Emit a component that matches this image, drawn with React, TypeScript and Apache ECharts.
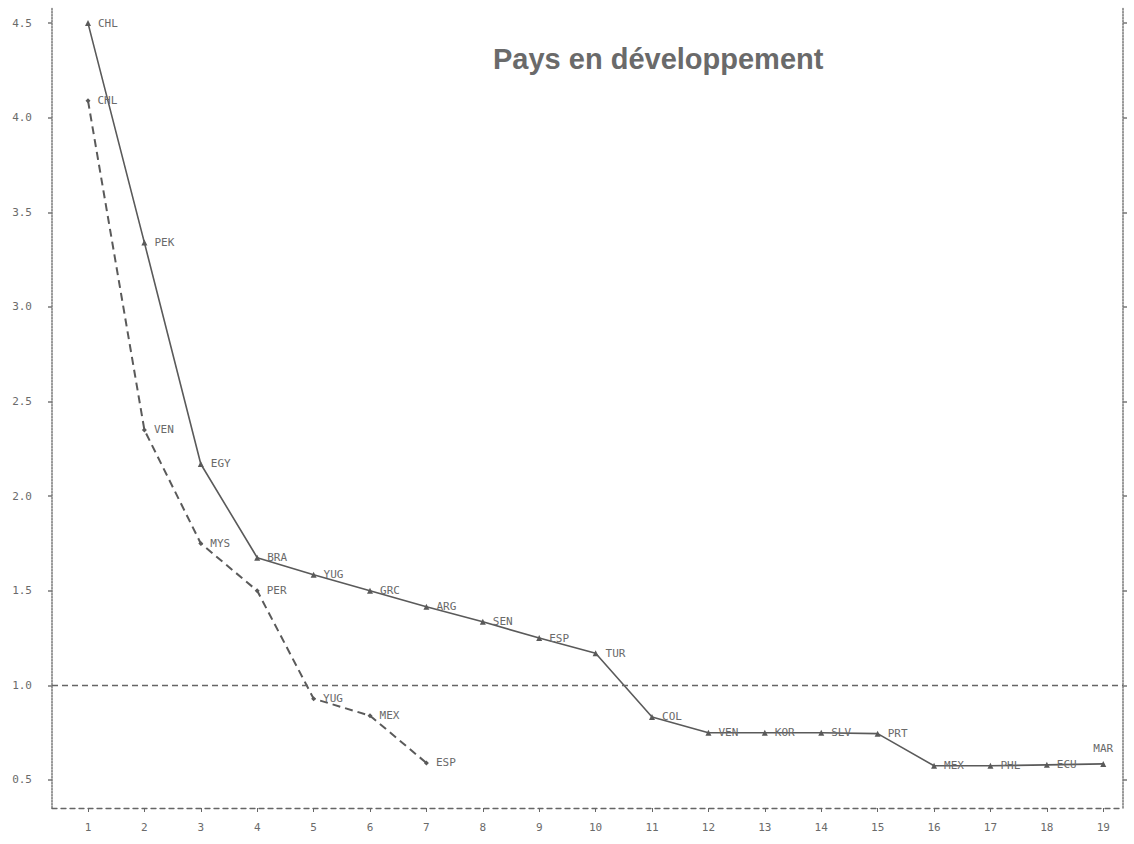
import React, { useEffect, useRef } from "react";
import * as echarts from "echarts";

const xTicks = [1, 2, 3, 4, 5, 6, 7, 8, 9, 10, 11, 12, 13, 14, 15, 16, 17, 18, 19];
const yTicks = [0.5, 1.0, 1.5, 2.0, 2.5, 3.0, 3.5, 4.0, 4.5];

const mainCountries = ["CHL", "PEK", "EGY", "BRA", "YUG", "GRC", "ARG", "SEN", "ESP", "TUR", "COL", "VEN", "KOR", "SLV", "PRT", "MEX", "PHL", "ECU", "MAR"];
const mainValues = [4.5, 3.34, 2.17, 1.675, 1.585, 1.5, 1.415, 1.336, 1.25, 1.17, 0.833, 0.75, 0.75, 0.75, 0.745, 0.575, 0.575, 0.58, 0.585];

const dashCountries = ["CHL", "VEN", "MYS", "PER", "YUG", "MEX", "ESP"];
const dashValues = [4.09, 2.35, 1.75, 1.5, 0.93, 0.84, 0.59];

const refLevel = 1.0;
const title = "Pays en développement";

const ink = "#5a5a5a";
const textInk = "#6a6a6a";
const mono = "DejaVu Sans Mono";

export default function App() {
  const ref = useRef<HTMLDivElement>(null);
  useEffect(() => {
    if (!ref.current) return;
    const chart = echarts.init(ref.current, null, { renderer: "svg" });
    const labelStyle = {
      show: true,
      position: "right" as const,
      distance: 7,
      formatter: (p: any) => p.name,
      fontFamily: mono,
      fontSize: 11,
      color: textInk,
    };
    const mainData = mainValues.map((v, i) => {
      const item: any = { name: mainCountries[i], value: [i + 1, v] };
      if (i === mainValues.length - 1) {
        item.label = { position: "top", distance: 7 };
      }
      return item;
    });
    const dashData = dashValues.map((v, i) => ({ name: dashCountries[i], value: [i + 1, v] }));
    const yBase = {
      type: "value" as const,
      min: 0.352,
      max: 4.585,
      splitLine: { show: false },
      axisLine: { show: true, lineStyle: { type: "dotted" as const, color: "#777", width: 1.5 } },
      axisTick: { show: true, customValues: yTicks, length: 4, lineStyle: { color: "#777", width: 1.5 } },
    };
    chart.setOption({
      animation: false,
      backgroundColor: "#ffffff",
      title: {
        text: title,
        left: 488,
        top: 39,
        textStyle: { fontFamily: "Liberation Sans", fontWeight: "bold", fontSize: 29, color: textInk },
      },
      grid: { left: 52, right: 11, top: 7, bottom: 36, containLabel: false },
      xAxis: {
        type: "value",
        min: 0.362,
        max: 19.35,
        splitLine: { show: false },
        axisLine: { show: true, lineStyle: { type: [5, 4], color: "#666", width: 1.3 } },
        axisTick: { show: true, customValues: xTicks, length: 4, lineStyle: { color: "#666" } },
        axisLabel: { customValues: xTicks, margin: 14, fontFamily: mono, fontSize: 11, color: textInk },
      },
      yAxis: [
        {
          ...yBase,
          position: "left",
          axisLabel: {
            customValues: yTicks,
            formatter: (v: number) => v.toFixed(1),
            margin: 20,
            fontFamily: mono,
            fontSize: 11,
            color: textInk,
          },
        },
        {
          ...yBase,
          position: "right",
          axisLabel: { show: false },
        },
      ],
      series: [
        {
          type: "line",
          data: mainData,
          symbol: "triangle",
          symbolSize: 6,
          lineStyle: { color: ink, width: 1.6 },
          itemStyle: { color: ink },
          label: labelStyle,
          markLine: {
            silent: true,
            symbol: ["none", "none"],
            label: { show: false },
            lineStyle: { type: [6, 4], color: "#666", width: 1.3 },
            data: [{ yAxis: refLevel }],
          },
        },
        {
          type: "line",
          data: dashData,
          symbol: "diamond",
          symbolSize: 5,
          lineStyle: { color: ink, width: 2, type: [8, 5] },
          itemStyle: { color: ink },
          label: labelStyle,
        },
      ],
    });
    return () => chart.dispose();
  }, []);
  return <div ref={ref} style={{ position: "fixed", left: 0, top: 0, width: 1134, height: 844 }} />;
}
